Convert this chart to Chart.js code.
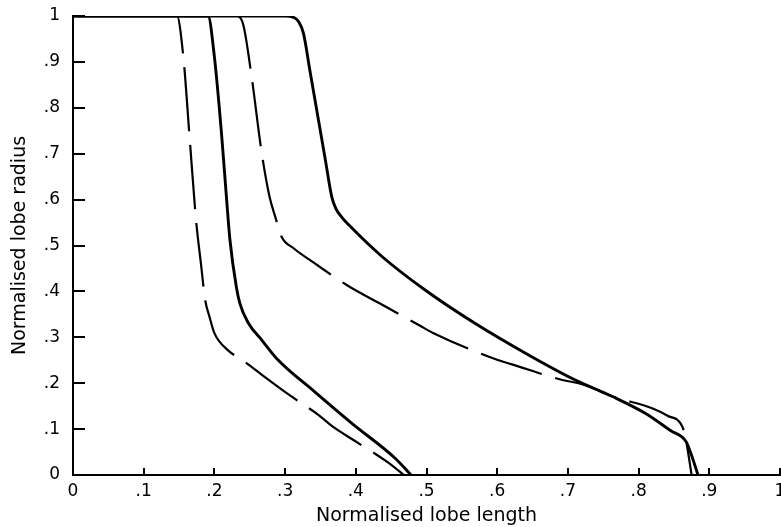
<!DOCTYPE html>
<html>
<head>
<meta charset="utf-8">
<script src="https://cdn.jsdelivr.net/npm/chart.js@4/dist/chart.umd.min.js"></script>
<style>
  html, body { margin: 0; padding: 0; background: #fff; }
  #wrap { width: 781px; height: 527px; }
</style>
</head>
<body>
<div id="wrap"><canvas id="c" width="781" height="527"></canvas></div>
<script>
// Curve A (dashed, leftmost)
const aX = [0, 0.147, 0.156, 0.165, 0.174, 0.181, 0.187, 0.193, 0.200, 0.219, 0.241, 0.271, 0.310, 0.347, 0.366, 0.400, 0.444, 0.468];
const aY = [1, 1, 0.912, 0.734, 0.556, 0.460, 0.381, 0.345, 0.309, 0.272, 0.249, 0.214, 0.170, 0.131, 0.107, 0.073, 0.029, 0];
// Curve B (solid, second)
const bX = [0, 0.191, 0.200, 0.210, 0.217, 0.222, 0.231, 0.236, 0.248, 0.267, 0.288, 0.342, 0.394, 0.456, 0.478];
const bY = [1, 1, 0.911, 0.745, 0.606, 0.512, 0.410, 0.374, 0.331, 0.294, 0.254, 0.181, 0.113, 0.036, 0];
// Curve C (dashed, third)
const cX = [0, 0.232, 0.241, 0.252, 0.267, 0.278, 0.286, 0.295, 0.312, 0.342, 0.387, 0.442, 0.491, 0.510, 0.598, 0.621, 0.692, 0.720, 0.763, 0.820, 0.841, 0.862, 0.867, 0.875];
const cY = [1, 1, 0.980, 0.875, 0.701, 0.606, 0.563, 0.519, 0.494, 0.461, 0.414, 0.367, 0.325, 0.309, 0.252, 0.241, 0.207, 0.198, 0.171, 0.145, 0.129, 0.105, 0.076, 0];
// Curve D (solid, rightmost)
const dX = [0, 0.300, 0.312, 0.319, 0.326, 0.335, 0.347, 0.357, 0.366, 0.372, 0.380, 0.390, 0.437, 0.498, 0.569, 0.645, 0.709, 0.763, 0.810, 0.845, 0.867, 0.874, 0.884];
const dY = [1, 1, 0.997, 0.988, 0.962, 0.882, 0.775, 0.686, 0.606, 0.580, 0.562, 0.545, 0.476, 0.403, 0.330, 0.261, 0.208, 0.171, 0.134, 0.097, 0.073, 0.047, 0];

const xTickLabels = ['0', '.1', '.2', '.3', '.4', '.5', '.6', '.7', '.8', '.9', '1'];
const yTickLabels = ['0', '.1', '.2', '.3', '.4', '.5', '.6', '.7', '.8', '.9', '1'];
const xTitle = 'Normalised lobe length';
const yTitle = 'Normalised lobe radius';

const pts = (xs, ys) => xs.map((x, i) => ({x: x, y: ys[i]}));

const FONT = '"DejaVu Sans", sans-serif';

const inwardTicks = {
  id: 'inwardTicks',
  afterDraw(chart) {
    const ctx = chart.ctx;
    const xs = chart.scales.x, ys = chart.scales.y;
    const area = chart.chartArea;
    ctx.save();
    ctx.strokeStyle = '#000';
    ctx.lineWidth = 2;
    ctx.beginPath();
    ys.ticks.forEach(t => {
      const py = Math.round(ys.getPixelForValue(t.value));
      ctx.moveTo(area.left, py);
      ctx.lineTo(area.left + 12, py);
    });
    xs.ticks.forEach(t => {
      const px = Math.round(xs.getPixelForValue(t.value));
      ctx.moveTo(px, area.bottom);
      ctx.lineTo(px, area.bottom - 7);
    });
    ctx.stroke();
    ctx.restore();
  }
};

const ds = (data, dashed) => ({
  data: data,
  borderColor: '#000',
  borderWidth: dashed ? 2.2 : 2.9,
  borderDash: dashed ? [64, 14] : [],
  pointRadius: 0,
  fill: false,
  cubicInterpolationMode: 'monotone'
});

new Chart(document.getElementById('c'), {
  type: 'line',
  data: {
    datasets: [
      ds(pts(aX, aY), true),
      ds(pts(bX, bY), false),
      ds(pts(cX, cY), true),
      ds(pts(dX, dY), false)
    ]
  },
  options: {
    responsive: false,
    animation: false,
    devicePixelRatio: 1,
    layout: { padding: { left: 0, right: 1, top: 16, bottom: 0 } },
    plugins: { legend: { display: false }, tooltip: { enabled: false } },
    scales: {
      x: {
        type: 'linear',
        min: 0, max: 1,
        afterBuildTicks: s => { s.ticks = xTickLabels.map((_, i) => ({value: i / 10})); },
        afterFit: s => { s.height = 52; s.paddingLeft = 0; s.paddingRight = 0; },
        grid: { display: true, drawOnChartArea: false, drawTicks: false },
        border: { display: true, color: '#000', width: 2 },
        ticks: {
          color: '#000',
          font: { family: FONT, size: 17 },
          padding: 6,
          maxRotation: 0,
          autoSkip: false,
          callback: (v, i) => xTickLabels[i]
        },
        title: {
          display: true, text: xTitle, color: '#000',
          font: { family: FONT, size: 19 },
          padding: { top: 0, bottom: 0 }
        }
      },
      y: {
        type: 'linear',
        min: 0, max: 1,
        afterBuildTicks: s => { s.ticks = yTickLabels.map((_, i) => ({value: i / 10})); },
        afterFit: s => { s.width = 73; s.paddingTop = 0; s.paddingBottom = 0; },
        grid: { display: true, drawOnChartArea: false, drawTicks: false },
        border: { display: true, color: '#000', width: 2 },
        ticks: {
          color: '#000',
          font: { family: FONT, size: 17 },
          padding: 13,
          autoSkip: false,
          callback: (v, i) => yTickLabels[i]
        },
        title: {
          display: true, text: yTitle, color: '#000',
          font: { family: FONT, size: 19 },
          padding: { top: 9, bottom: 0 }
        }
      }
    }
  },
  plugins: [inwardTicks]
});
</script>
</body>
</html>
